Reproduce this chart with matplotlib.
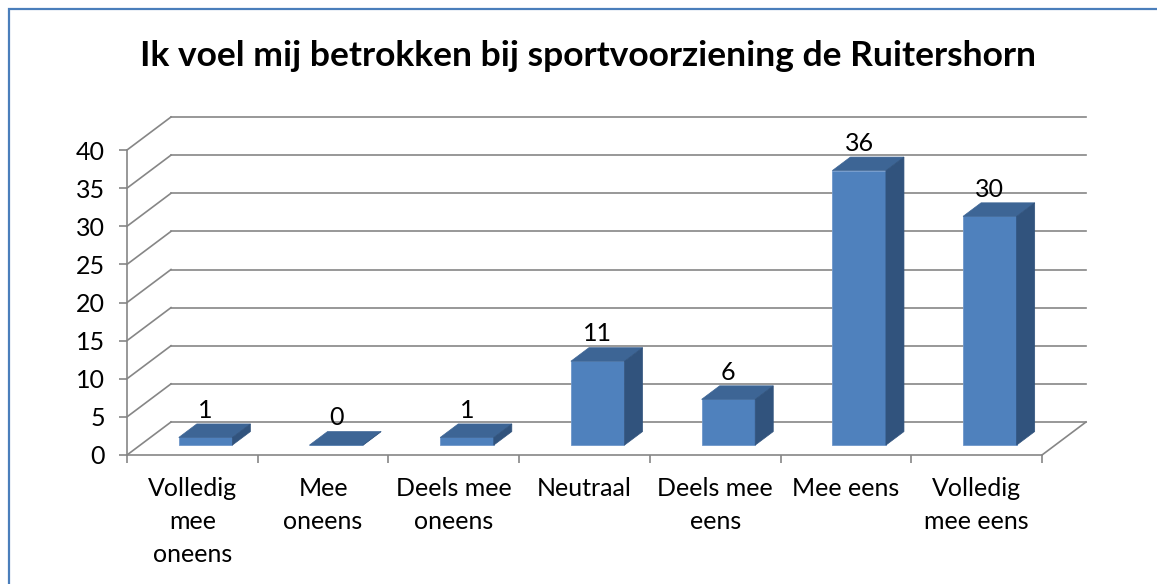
import matplotlib
matplotlib.use("Agg")
import matplotlib.pyplot as plt
from matplotlib.patches import Polygon, Rectangle

plt.rcParams['font.family'] = ['Lato', 'DejaVu Sans']

# data
categories = ["Volledig\nmee\noneens", "Mee\noneens", "Deels mee\noneens", "Neutraal",
              "Deels mee\neens", "Mee eens", "Volledig\nmee eens"]
values = [1, 0, 1, 11, 6, 36, 30]
yticks = [0, 5, 10, 15, 20, 25, 30, 35, 40]
title = "Ik voel mij betrokken bij sportvoorziening de Ruitershorn"

W, H = 1157, 584
fig = plt.figure(figsize=(W / 100, H / 100), dpi=100)

# front plane of the 3d box in pixels
x0, x1 = 127, 1042
y0, y1 = 455, 150
ax = fig.add_axes([x0 / W, (H - y0) / H, (x1 - x0) / W, (y0 - y1) / H])
ax.set_xlim(0, len(categories))
ax.set_ylim(0, 40)

# oblique depth offset (data units)
DX = 44 / ((x1 - x0) / len(categories))
DY = 33 / ((y0 - y1) / 40)
f0, f1 = 0.30, 0.71
bw = 0.41

grid_c = '#868686'
glw = 1.2
n = len(categories)

# back wall grid + side diagonals
for v in yticks:
    ax.plot([DX, n + DX], [v + DY, v + DY], color=grid_c, lw=glw, clip_on=False, zorder=1)
    ax.plot([0, DX], [v, v + DY], color=grid_c, lw=glw, clip_on=False, zorder=1)
ax.plot([n, n + DX], [0, DY], color=grid_c, lw=glw, clip_on=False, zorder=1)

# bars
xs = [i + 0.5 for i in range(n)]
xf = [x + f0 * DX for x in xs]
ax.bar(xf, values, width=bw, bottom=f0 * DY, color='#4F81BD', edgecolor='#6F97CB',
       linewidth=0.6, zorder=3, clip_on=False)
ddx, ddy = (f1 - f0) * DX, (f1 - f0) * DY
for x, v in zip(xf, values):
    l, r = x - bw / 2, x + bw / 2
    b, t = f0 * DY, f0 * DY + v
    top = Polygon([(l, t), (r, t), (r + ddx, t + ddy), (l + ddx, t + ddy)],
                  closed=True, facecolor='#3D6595', edgecolor='#3D6595', lw=0.5,
                  zorder=3, clip_on=False)
    side = Polygon([(r, b), (r, t), (r + ddx, t + ddy), (r + ddx, b + ddy)],
                   closed=True, facecolor='#31537D', edgecolor='#31537D', lw=0.5,
                   zorder=3, clip_on=False)
    ax.add_patch(top)
    ax.add_patch(side)
    ax.text(x, t + ddy + 0.3, str(v), ha='center', va='bottom', fontsize=18,
            color='black', zorder=4)

# axes styling
for s in ['top', 'right']:
    ax.spines[s].set_visible(False)
for s in ['left', 'bottom']:
    ax.spines[s].set_color(grid_c)
    ax.spines[s].set_linewidth(glw)
ax.set_facecolor('none')
ax.set_yticks(yticks)
ax.set_yticklabels([str(v) for v in yticks], fontsize=18)
ax.tick_params(axis='y', length=6, color=grid_c, width=glw, pad=10)
ax.set_xticks(xs)
ax.set_xticklabels(categories, fontsize=18, linespacing=1.52)
ax.set_xticks(range(n + 1), minor=True)
ax.tick_params(axis='x', which='major', length=0, pad=16)
ax.tick_params(axis='x', which='minor', length=6, color=grid_c, width=glw)

fig.text(588 / W, 1 - 56 / H, title, ha='center', va='center', fontsize=25.5,
         fontweight='bold')

# chart border (runs off the right and bottom)
fig.patches.append(Rectangle((8.5 / W, -0.5), 2, 1.5 - 9 / H, transform=fig.transFigure,
                             fill=False, edgecolor='#4A7EBB', lw=1.6))

fig.savefig('out.png', dpi=100)
